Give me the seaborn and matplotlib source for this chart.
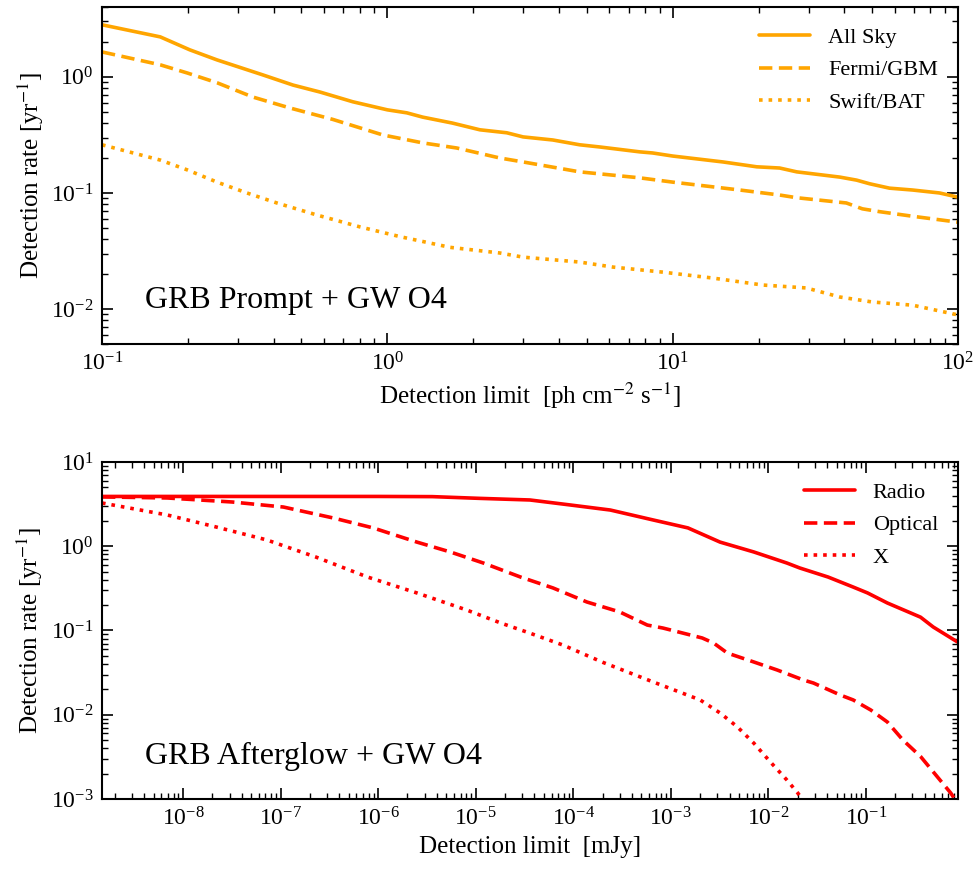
import numpy as np
import pandas as pd
import matplotlib
matplotlib.use("Agg")
import matplotlib.pyplot as plt
import matplotlib.ticker as mticker
import seaborn as sns

# ---- GRB prompt emission + GW O4: detection rate vs photon-flux limit ----
all_sky_limit = [0.1, 0.16, 0.203, 0.253, 0.366, 0.467, 0.581, 0.757, 1.0, 1.17,
                 1.33, 1.69, 2.11, 2.62, 2.99, 3.80, 4.72, 5.55, 7.66, 8.51,
                 10.0, 15.0, 19.7, 23.7, 27.2, 38.5, 44.1, 49.0, 57.5, 69.3, 86.1, 100.0]
all_sky = [2.81, 2.21, 1.71, 1.40, 1.04, 0.85, 0.74, 0.61, 0.52, 0.49,
           0.45, 0.40, 0.35, 0.33, 0.304, 0.286, 0.26, 0.249, 0.226, 0.221,
           0.208, 0.185, 0.168, 0.164, 0.152, 0.137, 0.129, 0.120, 0.110, 0.106, 0.100, 0.092]

fermi_limit = [0.1, 0.16, 0.199, 0.253, 0.338, 0.455, 0.644, 0.964, 1.33, 1.75,
               2.48, 2.99, 4.72, 7.66, 10.0, 17.2, 23.7, 27.2, 40.6, 46.2, 53.1, 69.3, 100.0]
fermi_gbm = [1.64, 1.27, 1.08, 0.89, 0.67, 0.54, 0.43, 0.316, 0.27, 0.244,
             0.20, 0.185, 0.152, 0.135, 0.124, 0.106, 0.096, 0.091, 0.082, 0.073, 0.069, 0.063, 0.056]

swift_limit = [0.1, 0.16, 0.199, 0.253, 0.322, 0.410, 0.566, 0.802, 1.11, 1.66,
               2.48, 2.99, 4.72, 6.17, 9.23, 13.8, 20.7, 29.4, 38.5, 50.1, 69.3, 100.0]
swift_bat = [0.26, 0.192, 0.158, 0.124, 0.100, 0.082, 0.0646, 0.051, 0.042, 0.034,
             0.0304, 0.028, 0.0254, 0.023, 0.0208, 0.0185, 0.0161, 0.0152, 0.0127, 0.0115, 0.0108, 0.0089]

# ---- GRB afterglow + GW O4: detection rate vs flux-density limit (mJy) ----
radio_limit = [1.48e-9, 1e-7, 1e-6, 3.6e-6, 1.1e-5, 3.6e-5, 9.3e-5, 2.4e-4, 6.6e-4, 1.5e-3,
               3.2e-3, 7.1e-3, 1.55e-2, 2.1e-2, 4.1e-2, 7.4e-2, 0.104, 0.166, 0.363, 0.49, 0.87]
radio = [3.9, 3.9, 3.9, 3.88, 3.7, 3.54, 3.09, 2.69, 2.05, 1.65,
         1.12, 0.855, 0.632, 0.552, 0.431, 0.328, 0.279, 0.212, 0.144, 0.110, 0.073]

optical_limit = [1.48e-9, 6.9e-9, 3.2e-8, 1.07e-7, 3.5e-7, 8.9e-7, 2.5e-6, 5.5e-6, 1.2e-5, 2.9e-5,
                 6.2e-5, 1.38e-4, 3.0e-4, 5.75e-4, 8.3e-4, 2.1e-3, 2.75e-3, 3.8e-3, 7.1e-3, 1.23e-2,
                 2.3e-2, 2.9e-2, 5.5e-2, 7.4e-2, 0.112, 0.166, 0.24, 0.363, 0.49, 0.74, 0.89]
optical = [3.85, 3.74, 3.35, 2.92, 2.16, 1.65, 1.12, 0.855, 0.632, 0.43,
           0.32, 0.218, 0.166, 0.116, 0.107, 0.0815, 0.071, 0.054, 0.0423, 0.034,
           0.0258, 0.0238, 0.0171, 0.015, 0.0114, 0.0082, 0.0050, 0.0032, 0.0021, 0.00118, 0.00085]

xray_limit = [1.48e-9, 6.9e-9, 2.2e-8, 7.2e-8, 2.3e-7, 7.8e-7, 2.5e-6, 8.1e-6, 1.8e-5, 3.6e-5,
              7.9e-5, 2.0e-4, 6.6e-4, 2.0e-3, 3.2e-3, 4.8e-3, 7.1e-3, 1.05e-2, 1.55e-2, 2.0e-2, 2.6e-2]
xray = [3.26, 2.35, 1.69, 1.19, 0.745, 0.431, 0.279, 0.175, 0.123, 0.093,
        0.067, 0.042, 0.0245, 0.015, 0.0105, 0.0072, 0.0046, 0.00275, 0.00168, 0.00118, 0.00078]

# labelled decades on each axis
prompt_xticks = [0.1, 1, 10, 100]
prompt_yticks = [0.01, 0.1, 1]
after_xticks = [1e-8, 1e-7, 1e-6, 1e-5, 1e-4, 1e-3, 1e-2, 1e-1]
after_yticks = [1e-3, 1e-2, 1e-1, 1, 10]

sns.set_style("ticks")
plt.rcParams.update({
    "font.family": ["Liberation Serif", "DejaVu Serif"],
    "mathtext.fontset": "stix",
    "text.color": "black",
    "axes.labelcolor": "black",
    "axes.linewidth": 1.5,
    "xtick.direction": "in",
    "ytick.direction": "in",
    "xtick.top": True,
    "ytick.right": True,
    "xtick.major.size": 8,
    "ytick.major.size": 8,
    "xtick.minor.size": 4,
    "ytick.minor.size": 4,
    "xtick.major.width": 1.2,
    "ytick.major.width": 1.2,
    "xtick.minor.width": 1.0,
    "ytick.minor.width": 1.0,
    "xtick.color": "black",
    "ytick.color": "black",
    "axes.edgecolor": "black",
})

fig = plt.figure(figsize=(9.78, 8.72), dpi=100)
ax1 = fig.add_axes([0.1043, 0.6055, 0.8753, 0.3865])
ax2 = fig.add_axes([0.1043, 0.0837, 0.8753, 0.3865])

lw = 2.6
dashed = (0, (3.7, 1.8))
dotted = (0, (1, 1.65))
for ax in (ax1, ax2):
    ax.set_xscale("log")
    ax.set_yscale("log")

prompt_series = [("All Sky", all_sky_limit, all_sky, "-"),
                 ("Fermi/GBM", fermi_limit, fermi_gbm, dashed),
                 ("Swift/BAT", swift_limit, swift_bat, dotted)]
for name, xs, ys, ls in prompt_series:
    df = pd.DataFrame({"limit": xs, "rate": ys})
    sns.lineplot(data=df, x="limit", y="rate", ax=ax1, color="orange",
                 linestyle=ls, linewidth=lw, label=name, estimator=None, sort=False)

after_series = [("Radio", radio_limit, radio, "-"),
                ("Optical", optical_limit, optical, dashed),
                ("X", xray_limit, xray, dotted)]
for name, xs, ys, ls in after_series:
    df = pd.DataFrame({"limit": xs, "rate": ys})
    sns.lineplot(data=df, x="limit", y="rate", ax=ax2, color="red",
                 linestyle=ls, linewidth=lw, label=name, estimator=None, sort=False)

ax1.set_xlim(0.1, 100)
ax1.set_ylim(0.005, 4.0)
ax2.set_xlim(1.48e-9, 0.88)
ax2.set_ylim(1e-3, 10)

ax1.set_xlabel(r"Detection limit  [ph cm$^{-2}$ s$^{-1}$]", fontsize=18, labelpad=4)
ax2.set_xlabel(r"Detection limit  [mJy]", fontsize=18, labelpad=4)

for ax, xt, yt in [(ax1, prompt_xticks, prompt_yticks), (ax2, after_xticks, after_yticks)]:
    ax.set_ylabel(r"Detection rate [yr$^{-1}$]", fontsize=18)
    ax.xaxis.set_major_locator(mticker.FixedLocator(xt))
    ax.yaxis.set_major_locator(mticker.FixedLocator(yt))
    ax.xaxis.set_major_formatter(mticker.LogFormatterSciNotation())
    ax.yaxis.set_major_formatter(mticker.LogFormatterSciNotation())
    ax.xaxis.set_minor_locator(mticker.LogLocator(base=10, subs=np.arange(2, 10), numticks=20))
    ax.yaxis.set_minor_locator(mticker.LogLocator(base=10, subs=np.arange(2, 10), numticks=20))
    ax.xaxis.set_minor_formatter(mticker.NullFormatter())
    ax.yaxis.set_minor_formatter(mticker.NullFormatter())
    ax.tick_params(axis="both", which="major", labelsize=17, pad=6)
    ax.legend(frameon=False, loc="upper right", fontsize=16, handlelength=2.3,
              handletextpad=0.8, labelspacing=0.55)

ax1.text(0.05, 0.13, "GRB Prompt + GW O4", transform=ax1.transAxes,
         fontsize=23, va="center", ha="left")
ax2.text(0.05, 0.125, "GRB Afterglow + GW O4", transform=ax2.transAxes,
         fontsize=23, va="center", ha="left")

fig.savefig("out.png", dpi=100)
